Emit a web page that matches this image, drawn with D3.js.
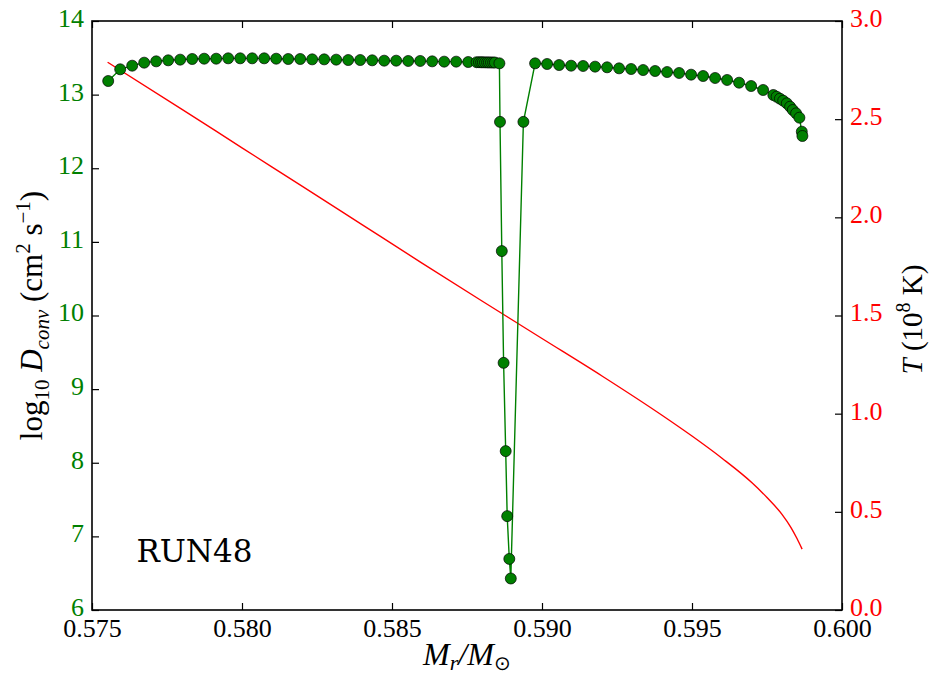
<!DOCTYPE html>
<html>
<head>
<meta charset="utf-8">
<script src="https://cdn.jsdelivr.net/npm/d3@7"></script>
<style>
body { margin: 0; background: #fff; }
</style>
</head>
<body>
<svg width="931" height="679"></svg>
<script>
// mass coordinate of each zone (D_conv profile)
var massD = [
  0.57554, 0.57594, 0.57634, 0.57674, 0.57714, 0.57754, 0.57794, 0.57834, 0.57874, 0.57914,
  0.57954, 0.57994, 0.58034, 0.58074, 0.58114, 0.58154, 0.58194, 0.58234, 0.58274, 0.58314,
  0.58354, 0.58394, 0.58434, 0.58474, 0.58514, 0.58554, 0.58594, 0.58634, 0.58674, 0.58714,
  0.58754,
  0.58782, 0.58790, 0.58797, 0.58803, 0.58810, 0.58817, 0.58823, 0.58830, 0.58837, 0.58843,
  0.58858, 0.58860, 0.58866, 0.58872, 0.58879, 0.58884, 0.58891, 0.58896, 0.58938,
  0.58977, 0.59017, 0.59057, 0.59097, 0.59137, 0.59177, 0.59217, 0.59257, 0.59297, 0.59337,
  0.59377, 0.59417, 0.59457, 0.59497, 0.59537, 0.59577, 0.59617, 0.59657, 0.59697, 0.59737,
  0.59771, 0.59782, 0.59793, 0.59804, 0.59816, 0.59827, 0.59836, 0.59847, 0.59858, 0.59866,
  0.59868
];
var logD = [
  13.185, 13.344, 13.393, 13.434, 13.452, 13.466, 13.475, 13.484, 13.488, 13.488,
  13.493, 13.493, 13.493, 13.493, 13.488, 13.484, 13.484, 13.479, 13.479, 13.475,
  13.470, 13.470, 13.466, 13.461, 13.461, 13.457, 13.457, 13.452, 13.448, 13.448,
  13.443,
  13.440, 13.440, 13.439, 13.439, 13.438, 13.438, 13.437, 13.437, 13.436, 13.436,
  13.425, 12.630, 10.875, 9.357, 8.158, 7.275, 6.694, 6.428, 12.630,
  13.425, 13.416, 13.402, 13.393, 13.389, 13.380, 13.371, 13.357, 13.348, 13.334,
  13.321, 13.307, 13.294, 13.271, 13.253, 13.226, 13.199, 13.162, 13.117, 13.063,
  12.995, 12.972, 12.945, 12.918, 12.882, 12.836, 12.791, 12.746, 12.687, 12.497,
  12.438
];

// temperature profile (10^8 K)
var massT = [0.57552, 0.578, 0.580, 0.582, 0.584, 0.586, 0.588, 0.590, 0.592, 0.594, 0.595, 0.596, 0.597, 0.5975, 0.598, 0.5983, 0.5985, 0.59867];
var temp  = [2.79, 2.55, 2.354, 2.159, 1.963, 1.767, 1.574, 1.383, 1.192, 0.992, 0.886, 0.773, 0.648, 0.573, 0.487, 0.420, 0.364, 0.31];

var xTicks = [0.575, 0.580, 0.585, 0.590, 0.595, 0.600];
var yLeftTicks = [6, 7, 8, 9, 10, 11, 12, 13, 14];
var yRightTicks = [0.0, 0.5, 1.0, 1.5, 2.0, 2.5, 3.0];

var svg = d3.select("svg"),
    margin = {top: 21, right: 89, bottom: 69, left: 92},
    width = +svg.attr("width") - margin.left - margin.right,
    height = +svg.attr("height") - margin.top - margin.bottom;

var green = "#008000", red = "#ff0000";
var serif = "Liberation Serif";

var x = d3.scaleLinear().domain([0.575, 0.600]).range([0, width]),
    yL = d3.scaleLinear().domain([6, 14]).range([height, 0]),
    yR = d3.scaleLinear().domain([0, 3]).range([height, 0]);

var g = svg.append("g")
    .attr("transform", "translate(" + margin.left + "," + margin.top + ")");

// red temperature line
var tData = massT.map(function(m, i) { return {m: m, t: temp[i]}; });
g.append("path")
    .datum(tData)
    .attr("fill", "none")
    .attr("stroke", red)
    .attr("stroke-width", 1.4)
    .attr("d", d3.line()
      .curve(d3.curveMonotoneX)
      .x(function(d) { return x(d.m); })
      .y(function(d) { return yR(d.t); }));

// green D_conv line + markers
var dData = massD.map(function(m, i) { return {m: m, d: logD[i]}; });
g.append("path")
    .datum(dData)
    .attr("fill", "none")
    .attr("stroke", green)
    .attr("stroke-width", 1.4)
    .attr("d", d3.line()
      .x(function(d) { return x(d.m); })
      .y(function(d) { return yL(d.d); }));

g.selectAll(".pt")
  .data(dData)
  .enter().append("circle")
    .attr("class", "pt")
    .attr("cx", function(d) { return x(d.m); })
    .attr("cy", function(d) { return yL(d.d); })
    .attr("r", 5.5)
    .attr("fill", green)
    .attr("stroke", "#000")
    .attr("stroke-width", 0.7);

// axes
var fmt3 = d3.format(".3f"), fmt1 = d3.format(".1f");

var xb = g.append("g")
    .attr("transform", "translate(0," + height + ")")
    .call(d3.axisBottom(x).tickValues(xTicks).tickFormat(fmt3).tickSizeInner(-7).tickSizeOuter(0).tickPadding(9));
var xt = g.append("g")
    .call(d3.axisTop(x).tickValues(xTicks).tickFormat("").tickSizeInner(-7).tickSizeOuter(0));
var yl = g.append("g")
    .call(d3.axisLeft(yL).tickValues(yLeftTicks).tickSizeInner(-7).tickSizeOuter(0).tickPadding(8));
var yr = g.append("g")
    .attr("transform", "translate(" + width + ",0)")
    .call(d3.axisRight(yR).tickValues(yRightTicks).tickFormat(fmt1).tickSizeInner(-7).tickSizeOuter(0).tickPadding(8));

[xb, xt, yl, yr].forEach(function(a) {
  a.select(".domain").remove();
  a.selectAll("line").attr("stroke", "#000").attr("stroke-width", 1.2);
  a.selectAll("text").attr("font-size", 26).attr("font-family", serif);
});
xb.selectAll("text").attr("fill", "#000");
yl.selectAll("text").attr("fill", green).attr("dy", "0.21em");
yr.selectAll("text").attr("fill", red).attr("dy", "0.21em");

// frame
g.append("rect")
    .attr("width", width)
    .attr("height", height)
    .attr("fill", "none")
    .attr("stroke", "#000")
    .attr("stroke-width", 1.6);

// axis titles
var xl = svg.append("text")
    .attr("x", margin.left + width / 2)
    .attr("y", 665)
    .attr("text-anchor", "middle")
    .attr("font-family", serif)
    .attr("font-size", 32);
xl.append("tspan").attr("font-style", "italic").text("M");
xl.append("tspan").attr("font-style", "italic").attr("font-size", 22).attr("dy", 5).text("r");
xl.append("tspan").attr("dy", -5).attr("font-style", "italic").text("/M");
xl.append("tspan").attr("font-size", 20).attr("dy", 5).text("\u2299");

var ylab = svg.append("text")
    .attr("transform", "translate(42," + (margin.top + height / 2) + ") rotate(-90)")
    .attr("text-anchor", "middle")
    .attr("font-family", serif)
    .attr("font-size", 31);
ylab.append("tspan").text("log");
ylab.append("tspan").attr("font-size", 21).attr("dy", 7).text("10");
ylab.append("tspan").attr("dy", -7).attr("font-style", "italic").text(" D");
ylab.append("tspan").attr("font-size", 21).attr("dy", 7).attr("font-style", "italic").text("conv");
ylab.append("tspan").attr("dy", -7).text(" (cm");
ylab.append("tspan").attr("font-size", 21).attr("dy", -12).text("2");
ylab.append("tspan").attr("dy", 12).text(" s");
ylab.append("tspan").attr("font-size", 21).attr("dy", -12).text("\u22121");
ylab.append("tspan").attr("dy", 12).text(")");

var yrl = svg.append("text")
    .attr("transform", "translate(922," + (margin.top + height / 2 + 4) + ") rotate(-90)")
    .attr("text-anchor", "middle")
    .attr("font-family", serif)
    .attr("font-size", 29);
yrl.append("tspan").attr("font-style", "italic").text("T");
yrl.append("tspan").text(" (10");
yrl.append("tspan").attr("font-size", 20).attr("dy", -12).text("8");
yrl.append("tspan").attr("dy", 12).text(" K)");

// run label
g.append("text")
    .attr("x", x(0.57648))
    .attr("y", 562 - margin.top)
    .attr("font-family", "DejaVu Serif")
    .attr("font-size", 31)
    .attr("fill", "#000")
    .text("RUN48");
</script>
</body>
</html>
